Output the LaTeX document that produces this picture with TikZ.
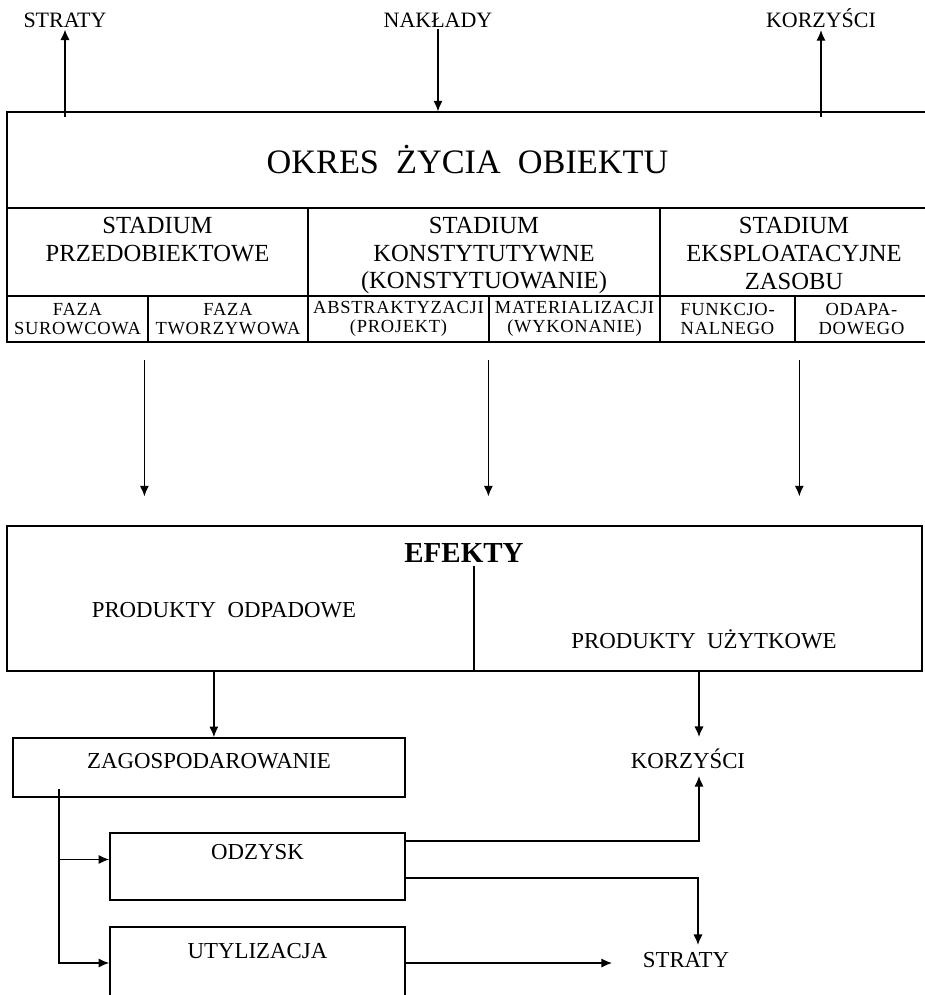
\documentclass[tikz,border=0pt]{standalone}
\usepackage{fontspec}
\setmainfont{Liberation Serif}
\newfontfamily\fazafont[LetterSpace=4]{Liberation Serif}
\usetikzlibrary{arrows.meta,positioning}

\begin{document}
\begin{tikzpicture}[x=0.02cm,y=-0.02cm]
\tikzset{cell/.style={draw,line width=0.7pt,inner sep=0pt}}
\tikzset{box/.style={draw,line width=1pt,inner sep=0pt}}
\tikzset{lbl/.style={inner sep=1pt,font=\fontsize{13}{15}\selectfont}}
\tikzset{toplbl/.style={inner sep=1pt,font=\fontsize{12.5}{15}\selectfont}}
\tikzset{stadT/.style={align=center,inner sep=0pt,font=\fontsize{14}{15.9}\selectfont}}
\tikzset{faza/.style={cell,align=center,minimum height=0.92cm,font=\fazafont\fontsize{10.5}{10.8}\selectfont}}
\tikzset{arr/.style={line width=0.75pt,-{Latex[length=6pt,width=5.2pt]}}}
\tikzset{ln/.style={line width=0.75pt}}

\useasboundingbox (0,0) rectangle (925,995);
\clip (0,0) rectangle (925,995);

% top labels
\node[toplbl] (strT) at (65,20) {STRATY};
\node[toplbl] (nakT) at (438,20) {NAKŁADY};
\node[toplbl] (korT) at (821,18.5) {KORZYŚCI};

% okres zycia
\node[cell,minimum width=18.42cm,minimum height=1.92cm,font=\fontsize{19.5}{22}\selectfont] (okres) at (467.5,160) {OKRES\ \ ŻYCIA\ \ OBIEKTU};

\node[cell,minimum width=6.02cm,minimum height=1.76cm] (pre) at (157.5,252) {};
\node[cell,minimum width=7.04cm,minimum height=1.76cm] (kon) at (484,252) {};
\node[cell,minimum width=5.36cm,minimum height=1.76cm] (eks) at (794,252) {};
\node[stadT] (preT) at ([yshift=-0.9pt]pre) {STADIUM\\PRZEDOBIEKTOWE\\\phantom{S}};
\node[stadT] (konT) at ([yshift=-2pt]kon) {STADIUM\\KONSTYTUTYWNE\\(KONSTYTUOWANIE)};
\node[stadT] (eksT) at ([yshift=-0.8pt]eks) {STADIUM\\EKSPLOATACYJNE\\ZASOBU};

\node[faza,minimum width=2.82cm] (sur) at (77.5,319) {FAZA\\SUROWCOWA};
\node[faza,minimum width=3.2cm] (two) at (228,319) {FAZA\\TWORZYWOWA};
\node[faza,minimum width=3.62cm] (abs) at (398.5,319) {ABSTRAKTYZACJI\\(PROJEKT)};
\node[faza,minimum width=3.42cm] (mat) at (574.5,319) {MATERIALIZACJI\\(WYKONANIE)};
\node[faza,minimum width=2.7cm] (fun) at (727.5,319) {FUNKCJO-\\NALNEGO};
\node[faza,minimum width=2.66cm] (oda) at (861.5,319) {ODAPA-\\DOWEGO};

\coordinate (sA) at (strT.south |- okres.north);
\coordinate (kA) at (korT.south |- okres.north);
\draw[arr] ([yshift=-3pt]sA) -- (strT.south);
\draw[arr] ([yshift=-3pt]kA) -- (korT.south);
\draw[arr] (nakT.south) -- (nakT.south |- okres.north);

% efekty
\node[box,minimum width=18.3cm,minimum height=2.9cm] (efekty) at (464.5,598.5) {};
\node[font=\fontsize{16.5}{18}\selectfont\bfseries] (efT) at (464,553) {EFEKTY};
\node[lbl] (odpT) at (224,610) {PRODUKTY\ \ ODPADOWE};
\node[lbl] (uzyT) at (704,639) {PRODUKTY\ \ UŻYTKOWE};
\coordinate (div) at (474,566);
\draw[ln] (div) -- (div |- efekty.south);

\coordinate (a1) at ([xshift=-1.7pt,yshift=-10pt]two.south west);
\coordinate (a2) at ([yshift=-10pt]mat.south west);
\coordinate (a3) at ([xshift=2.8pt,yshift=-10pt]oda.south west);
\foreach \a in {a1,a2,a3}
  \draw[arr,shorten >=16.4pt] (\a) -- (\a |- efekty.north);

% zagospodarowanie
\node[box,minimum width=7.84cm,minimum height=1.18cm] (zag) at (209,767.5) {};
\node[lbl] (zagT) at ([yshift=-13.5pt]zag.north) {ZAGOSPODAROWANIE};
\node[box,minimum width=5.9cm,minimum height=1.34cm] (odz) at (257.5,866.5) {};
\node[lbl] (odzT) at ([yshift=-11.3pt]odz.north) {ODZYSK};
\node[box,minimum width=5.9cm,minimum height=1.66cm] (uty) at (257.5,968.5) {};
\node[lbl] (utyT) at ([yshift=-14.2pt]uty.north) {UTYLIZACJA};
\node[lbl] (korB) at (688,758.5) {KORZYŚCI};
\node[lbl] (strB) at (686,960) {STRATY};

\coordinate (zIn) at ([xshift=2.8pt]zag.north);
\coordinate (kIn) at (699,737);
\coordinate (kOut) at (699,776);
\coordinate (sIn) at (698,945);
\coordinate (sL) at (612,963);
\coordinate (trunk) at (59,789);

\draw[arr] (zIn |- efekty.south) -- (zIn);
\draw[arr] (kIn |- efekty.south) -- (kIn);
\draw[arr] ([yshift=-5pt]odz.north east) -| (kOut);
\draw[arr] ([yshift=13pt]odz.south east) -| (sIn);
\draw[arr] (uty.east |- sL) -- (sL);
\draw[arr] (trunk) |- ([yshift=4pt]odz.west);
\draw[arr] (trunk) |- (uty.west |- sL);

\end{tikzpicture}
\end{document}
